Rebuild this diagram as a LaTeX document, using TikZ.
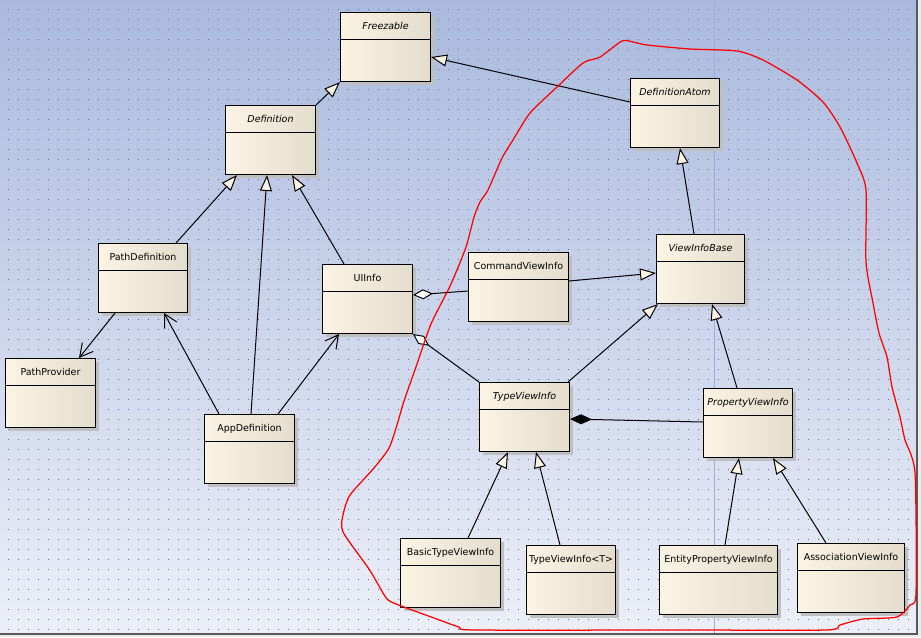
\documentclass[tikz,border=0pt]{standalone}
\usepackage{fontspec}
\setmainfont{DejaVu Sans}
\usetikzlibrary{arrows.meta,calc,shadows}
\definecolor{bgtop}{RGB}{170,186,222}
\definecolor{bgbot}{RGB}{236,239,248}
\definecolor{boxlight}{RGB}{251,243,228}
\definecolor{boxdark}{RGB}{228,220,204}
\definecolor{gridgray}{RGB}{105,110,132}
\definecolor{pagebreak}{RGB}{160,170,225}
\tikzset{
  umlclass/.style={draw, line width=0.2mm, anchor=north west,
    minimum height=13.8mm, inner xsep=0.4mm, inner ysep=0pt,
    text height=3.4mm, text depth=10.4mm,
    font=\fontsize{5.4}{6}\selectfont,
    left color=boxlight, middle color=boxlight, right color=boxdark,
    drop shadow={shadow xshift=0.6mm, shadow yshift=-0.6mm, fill=black!25, opacity=1},
    path picture={\draw[line width=0.2mm]
      ([yshift=-5.4mm]path picture bounding box.north west) --
      ([yshift=-5.4mm]path picture bounding box.north east);}},
  abstract/.style={umlclass, font=\fontsize{5.4}{6}\selectfont\itshape},
  inherit/.style={line width=0.2mm, -{Triangle[fill=boxlight, length=3.2mm, width=2.4mm]}},
  uses/.style={line width=0.2mm, -{Straight Barb[length=2.6mm, width=2.8mm]}},
  aggr/.style={line width=0.2mm, {Diamond[fill=white, length=4mm, width=2mm]}-},
  comp/.style={line width=0.2mm, {Diamond[length=4.4mm, width=2mm]}-}
}
\begin{document}
\begin{tikzpicture}[x=0.2mm, y=-0.2mm]
  \useasboundingbox (0,0) rectangle (921,637);
  \fill[black!8] (0,0) rectangle (921,637);
  \shade[top color=bgtop, bottom color=bgbot] (0,0) rectangle (917,634);
  \foreach \gy in {9,19,...,629}
    \draw[gridgray, line width=0.2mm, dash pattern=on 0.2mm off 1.8mm] (7.5,\gy) -- (917,\gy);
  \draw[pagebreak, line width=0.2mm] (714,0) -- (714,634);
  \draw[black!65, line width=0.4mm] (917,0) -- (917,634) -- (0,634);

  \node[abstract, minimum width=18mm] (freez) at (340,12) {Freezable};
  \node[abstract, minimum width=18mm] (def) at (225,105) {Definition};
  \node[abstract, minimum width=17.8mm] (defAtom) at (630,78) {DefinitionAtom};
  \node[umlclass, minimum width=17.8mm] (pathDef) at (98,243) {PathDefinition};
  \node[umlclass, minimum width=18mm] (pathProv) at (5,358) {PathProvider};
  \node[umlclass, minimum width=18mm] (uiInfo) at (322,264) {UIInfo};
  \node[umlclass, minimum width=20mm] (cmdView) at (468,252) {CommandViewInfo};
  \node[umlclass, minimum width=18mm] (appDef) at (204,414) {AppDefinition};
  \node[abstract, minimum width=17.6mm] (viewBase) at (656,234) {ViewInfoBase};
  \node[abstract, minimum width=18mm] (typeView) at (479,382) {TypeViewInfo};
  \node[abstract, minimum width=17.8mm] (propView) at (703,388) {PropertyViewInfo};
  \node[umlclass, minimum width=20mm] (basicView) at (400,538) {BasicTypeViewInfo};
  \node[umlclass, minimum width=17.8mm] (genView) at (526,545) {TypeViewInfo<T>};
  \node[umlclass, minimum width=23.6mm] (entView) at (659,545) {EntityPropertyViewInfo};
  \node[umlclass, minimum width=21.4mm] (assocView) at (797,543) {AssociationViewInfo};

  \draw[inherit] (def.north east) -- (freez.south west);
  \draw[inherit] ($(defAtom.north west)+(0,24)$) -- ($(freez.north east)+(0,45)$);
  \draw[inherit] ($(pathDef.north west)+(78,0)$) -- ($(def.south west)+(12,0)$);
  \draw[inherit] ($(appDef.north west)+(47,0)$) -- ($(def.south west)+(42,0)$);
  \draw[inherit] ($(uiInfo.north west)+(22,0)$) -- ($(def.south west)+(67,0)$);
  \draw[uses] ($(appDef.north west)+(15,0)$) -- ($(pathDef.south west)+(66,0)$);
  \draw[uses] ($(pathDef.south west)+(17,0)$) -- ($(pathProv.north west)+(74,0)$);
  \draw[uses] ($(appDef.north west)+(74,0)$) -- ($(uiInfo.south west)+(17,0)$);
  \draw[aggr] ($(uiInfo.north east)+(0,31)$) -- ($(cmdView.north west)+(0,39)$);
  \draw[inherit] ($(cmdView.north east)+(0,29)$) -- ($(viewBase.north west)+(0,39)$);
  \draw[aggr] (uiInfo.south east) -- (typeView.north west);
  \draw[inherit] ($(typeView.north east)+(-2,0)$) -- ($(viewBase.south west)+(2,0)$);
  \draw[inherit] ($(viewBase.north west)+(38,0)$) -- ($(defAtom.south west)+(50,0)$);
  \draw[inherit] ($(propView.north west)+(34,0)$) -- ($(viewBase.south west)+(56,0)$);
  \draw[comp] ($(typeView.north east)+(0,37)$) -- ($(propView.north west)+(0,34)$);
  \draw[inherit] ($(basicView.north west)+(68,0)$) -- ($(typeView.south west)+(29,0)$);
  \draw[inherit] ($(genView.north west)+(34,0)$) -- ($(typeView.south west)+(57,0)$);
  \draw[inherit] ($(entView.north west)+(66,0)$) -- ($(propView.south west)+(36,0)$);
  \draw[inherit] ($(assocView.north west)+(29,0)$) -- ($(propView.south west)+(70,0)$);

  \draw[red, line width=0.25mm] plot[smooth cycle, tension=0.4] coordinates {
    (480,202) (488,190) (502,158) (513,140) (530,113) (557,87) (583,63) (600,57)
    (622,41) (633,42) (647,45) (690,49) (737,51) (763,60) (797,80) (823,102)
    (840,127) (857,163) (866,190) (866,262) (873,303) (879,333) (887,357)
    (892,387) (900,417) (905,440) (915,473) (916,593) (910,605) (897,617)
    (863,619) (840,625) (826,630) (686,630) (476,630) (459,627) (434,618)
    (404,607) (388,600) (379,586) (369,569) (343,532) (343,515) (350,495)
    (374,468) (389,448) (397,425) (404,401) (417,364) (431,324) (451,284)
    (466,247) (474,217)};
\end{tikzpicture}
\end{document}
